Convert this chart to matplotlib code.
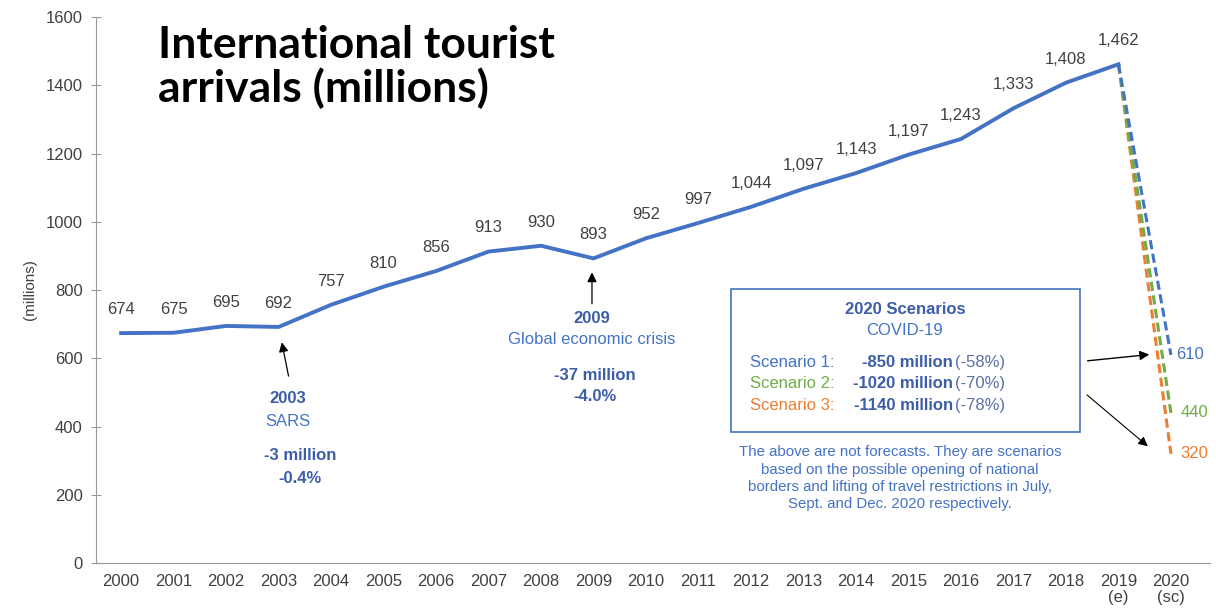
import numpy as np
import matplotlib.pyplot as plt
from matplotlib.patches import Rectangle

plt.rcParams['font.family'] = ['Liberation Sans', 'DejaVu Sans']

years = ['2000', '2001', '2002', '2003', '2004', '2005', '2006', '2007', '2008', '2009',
         '2010', '2011', '2012', '2013', '2014', '2015', '2016', '2017', '2018', '2019\n(e)',
         '2020\n(sc)']
arrivals = [674, 675, 695, 692, 757, 810, 856, 913, 930, 893,
            952, 997, 1044, 1097, 1143, 1197, 1243, 1333, 1408, 1462]
scenario_end = [610, 440, 320]
scenario_colors = ['#4472C4', '#70AD47', '#ED7D31']
scenario_names = ['Scenario 1:', 'Scenario 2:', 'Scenario 3:']
scenario_drop = ['-850 million', '-1020 million', '-1140 million']
scenario_pct = ['(-58%)', '(-70%)', '(-78%)']

blue = '#4472C4'
dark_blue = '#3C5DAA'
grey = '#404040'
fs = 12

fig = plt.figure(figsize=(12.16, 6.14), dpi=100)
ax = fig.add_axes([0.0789, 0.083, 0.916, 0.889])

ind = np.arange(len(arrivals))
ax.plot(ind, arrivals, color=blue, lw=2.8, solid_joinstyle='round', zorder=3)

# scenario drops from 2019 to 2020
for end, col in zip(scenario_end[::-1], scenario_colors[::-1]):
    ax.plot([ind[-1], ind[-1] + 1], [arrivals[-1], end], color=col, lw=2.2,
            ls=(0, (3, 1.5)), zorder=2)

for end, col, dx in zip(scenario_end, scenario_colors, [4, 7, 7]):
    ax.annotate(str(end), (ind[-1] + 1, end), xytext=(dx, 0), textcoords='offset points',
                ha='left', va='center', fontsize=fs, color=col)

# value labels
for i, v in zip(ind, arrivals):
    ax.annotate('{:,}'.format(v), (i, v), xytext=(0, 17), textcoords='offset points',
                ha='center', va='center', fontsize=fs, color=grey)

ax.set_xlim(-0.48, 20.74)
ax.set_ylim(0, 1600)
ax.set_yticks(np.arange(0, 1601, 200))
ax.set_xticks(np.arange(len(years)))
ax.set_xticklabels(years, fontsize=fs, color=grey, linespacing=1.1)
ax.tick_params(axis='y', labelsize=fs, labelcolor=grey, direction='inout', length=7,
               color='#999999', pad=6)
ax.tick_params(axis='x', length=0, pad=8)
for s in ['top', 'right']:
    ax.spines[s].set_visible(False)
for s in ['left', 'bottom']:
    ax.spines[s].set_color('#999999')
fig.text(30 / 1216, 1 - 290 / 614, '(millions)', rotation=90, ha='center', va='center',
         fontsize=11, color=grey)

# 2003 SARS
ax.annotate('', xy=(3.05, 655), xytext=(3.2, 540),
            arrowprops=dict(arrowstyle='-|>', color='black', lw=0.9, mutation_scale=14))
ax.text(3.18, 483, '2003', ha='center', va='center', fontsize=fs, fontweight='bold', color=dark_blue)
ax.text(3.18, 416, 'SARS', ha='center', va='center', fontsize=fs, color=blue)
ax.text(3.41, 316, '-3 million', ha='center', va='center', fontsize=fs, fontweight='bold', color=dark_blue)
ax.text(3.41, 249, '-0.4%', ha='center', va='center', fontsize=fs, fontweight='bold', color=dark_blue)

# 2009 crisis
ax.annotate('', xy=(8.97, 860), xytext=(8.97, 752),
            arrowprops=dict(arrowstyle='-|>', color='black', lw=0.9, mutation_scale=14))
ax.text(8.97, 717, '2009', ha='center', va='center', fontsize=fs, fontweight='bold', color=dark_blue)
ax.text(8.97, 656, 'Global economic crisis', ha='center', va='center', fontsize=fs, color=blue)
ax.text(9.03, 550, '-37 million', ha='center', va='center', fontsize=fs, fontweight='bold', color=dark_blue)
ax.text(9.03, 489, '-4.0%', ha='center', va='center', fontsize=fs, fontweight='bold', color=dark_blue)

# scenario box
ax.add_patch(Rectangle((11.62, 384), 18.27 - 11.62, 802 - 384, fill=False,
                       edgecolor=blue, lw=1.2, zorder=4))
ax.text(14.93, 744, '2020 Scenarios', ha='center', va='center', fontsize=fs,
        fontweight='bold', color=dark_blue)
ax.text(14.93, 682, 'COVID-19', ha='center', va='center', fontsize=fs, color=blue)
for k, yy in enumerate([589, 527, 463]):
    ax.text(11.98, yy, scenario_names[k], ha='left', va='center', fontsize=fs,
            color=scenario_colors[k])
    ax.text(15.85, yy, scenario_drop[k], ha='right', va='center', fontsize=fs,
            fontweight='bold', color=dark_blue)
    ax.text(15.89, yy, scenario_pct[k], ha='left', va='center', fontsize=fs, color='#5A6FA8')

note = ('The above are not forecasts. They are scenarios\n'
        'based on the possible opening of national\n'
        'borders and lifting of travel restrictions in July,\n'
        'Sept. and Dec. 2020 respectively.')
ax.text(14.84, 248, note, ha='center', va='center', fontsize=10.8, color=blue, linespacing=1.3)

ax.annotate('', xy=(19.64, 612), xytext=(18.36, 592),
            arrowprops=dict(arrowstyle='-|>', color='black', lw=1.0, mutation_scale=14))
ax.annotate('', xy=(19.6, 337), xytext=(18.36, 498),
            arrowprops=dict(arrowstyle='-|>', color='black', lw=0.8, mutation_scale=14))

fig.text(158 / 1216, 1 - 25 / 614, 'International tourist\narrivals (millions)',
         family=['Lato', 'DejaVu Sans'], fontweight='bold', fontsize=32,
         ha='left', va='top', linespacing=1.07, color='black')

fig.savefig('out.png', dpi=100)
